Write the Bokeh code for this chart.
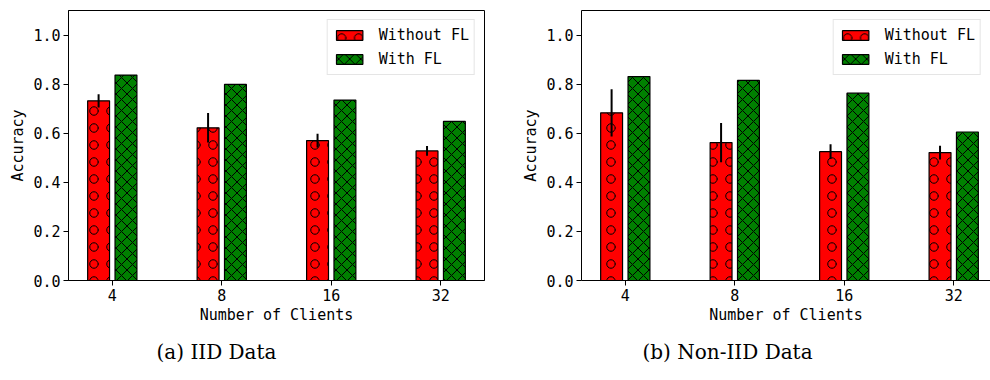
from bokeh.plotting import figure
from bokeh.models import (Range1d, FixedTicker, PrintfTickFormatter, Legend, LegendItem,
                          Title, LinearAxis)
from bokeh.layouts import row
from bokeh.embed import file_html
from bokeh.resources import INLINE

# ---- data ----
clients = ["4", "8", "16", "32"]
iid_without = [0.732, 0.622, 0.570, 0.528]
iid_without_err = [0.027, 0.060, 0.028, 0.020]
iid_with = [0.837, 0.799, 0.735, 0.648]
noniid_without = [0.683, 0.562, 0.525, 0.521]
noniid_without_err = [0.096, 0.080, 0.030, 0.028]
noniid_with = [0.831, 0.815, 0.763, 0.605]
y_ticks = [0.0, 0.2, 0.4, 0.6, 0.8, 1.0]
series_names = ["Without FL", "With FL"]
captions = ["(a) IID Data", "(b) Non-IID Data"]

MONO = "DejaVu Sans Mono"
H = 380


def make_panel(without, err, with_, caption, width, b_left, b_right, x_end,
               cap_offset, full_outline):
    p = figure(width=width, height=H, output_backend="svg", toolbar_location=None,
               title_location=None, x_range=Range1d(-0.4, x_end), y_range=Range1d(0, 1.1),
               min_border_left=b_left, min_border_right=b_right, min_border_top=10,
               min_border_bottom=100, background_fill_color="white",
               border_fill_color="white")
    xs = list(range(len(clients)))
    x_red = [i - 0.125 for i in xs]
    x_green = [i + 0.125 for i in xs]
    r1 = p.vbar(x=x_red, top=without, width=0.2, fill_color="red", line_color="black",
                line_width=1.2, hatch_pattern="ring", hatch_color="black",
                hatch_scale=17, hatch_weight=1)
    r2 = p.vbar(x=x_green, top=with_, width=0.2, fill_color="green", line_color="black",
                line_width=1.2, hatch_pattern="diagonal_cross", hatch_color="black",
                hatch_scale=11, hatch_weight=1)
    lo = [v - e for v, e in zip(without, err)]
    hi = [v + e for v, e in zip(without, err)]
    p.segment(x0=x_red, y0=lo, x1=x_red, y1=hi, line_color="black", line_width=2)

    p.xgrid.visible = False
    p.ygrid.visible = False

    for ax in (p.xaxis[0], p.yaxis[0]):
        ax.major_label_text_font = MONO
        ax.major_label_text_font_size = "15px"
        ax.major_label_text_color = "black"
        ax.axis_label_text_font = MONO
        ax.axis_label_text_font_size = "15px"
        ax.axis_label_text_font_style = "normal"
        ax.axis_label_text_color = "black"
        ax.major_tick_out = 5
        ax.major_tick_in = 0
        ax.minor_tick_line_color = None
        ax.axis_line_color = "black"
        ax.major_tick_line_color = "black"
        ax.major_label_standoff = 3
    p.xaxis.axis_label_standoff = 2
    p.yaxis.axis_label_standoff = 3

    p.xaxis.ticker = FixedTicker(ticks=xs)
    p.xaxis.major_label_overrides = {i: c for i, c in enumerate(clients)}
    p.xaxis.axis_label = "Number of Clients"
    p.yaxis.ticker = FixedTicker(ticks=y_ticks)
    p.yaxis.formatter = PrintfTickFormatter(format="%.1f")
    p.yaxis.axis_label = "Accuracy"

    if full_outline:
        p.outline_line_color = "black"
        p.outline_line_width = 1
    else:
        p.outline_line_color = None
        top = LinearAxis(ticker=FixedTicker(ticks=[]), major_tick_out=0, major_tick_in=0,
                         major_label_standoff=0, major_label_text_font_size="0px",
                         minor_tick_line_color=None, axis_line_color="black")
        p.add_layout(top, "above")

    legend = Legend(items=[LegendItem(label=series_names[0], renderers=[r1]),
                           LegendItem(label=series_names[1], renderers=[r2])],
                    location="top_right", label_text_font=MONO, label_text_font_size="15px",
                    label_text_color="black",
                    glyph_width=33, glyph_height=12, label_standoff=13, padding=5,
                    spacing=4, margin=9, border_line_color="#cccccc", border_line_width=1,
                    background_fill_alpha=0.8, label_height=20)
    p.add_layout(legend)

    t = Title(text=caption, align="left", offset=cap_offset, text_font="DejaVu Serif",
              text_font_size="20px", text_font_style="normal", text_color="black",
              standoff=23)
    p.add_layout(t, "below")
    return p


p1 = make_panel(iid_without, iid_without_err, iid_with, captions[0],
                width=500, b_left=68, b_right=16, x_end=3.4, cap_offset=88,
                full_outline=True)
p2 = make_panel(noniid_without, noniid_without_err, noniid_with, captions[1],
                width=490, b_left=81, b_right=0, x_end=3.336, cap_offset=61,
                full_outline=False)

layout = row(p1, p2)
open("out.html", "w").write(file_html(layout, INLINE))
